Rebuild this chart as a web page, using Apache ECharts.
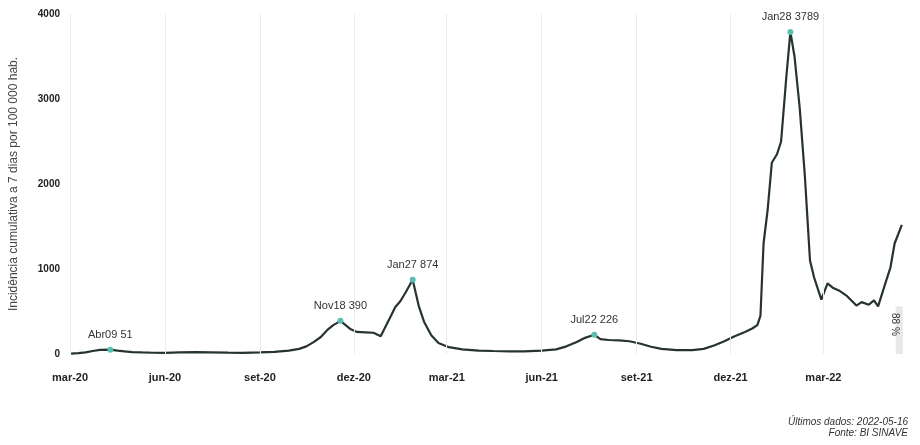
<!DOCTYPE html>
<html><head><meta charset="utf-8">
<script src="https://cdn.jsdelivr.net/npm/echarts@6/dist/echarts.min.js"></script>
<style>html,body{margin:0;padding:0;background:#fff}#c{width:920px;height:445px}</style>
</head><body><div id="c"></div>
<script>
const dates = ["2020-03-02","2020-03-09","2020-03-16","2020-03-23","2020-03-30","2020-04-09","2020-04-16","2020-04-23","2020-04-30","2020-05-10","2020-05-20","2020-06-01","2020-06-15","2020-07-01","2020-07-15","2020-08-01","2020-08-15","2020-09-01","2020-09-15","2020-09-29","2020-10-09","2020-10-16","2020-10-23","2020-10-30","2020-11-06","2020-11-11","2020-11-14","2020-11-18","2020-11-23","2020-11-28","2020-12-04","2020-12-12","2020-12-20","2020-12-27","2021-01-01","2021-01-06","2021-01-10","2021-01-15","2021-01-20","2021-01-27","2021-02-02","2021-02-07","2021-02-14","2021-02-21","2021-03-03","2021-03-16","2021-04-01","2021-04-15","2021-05-01","2021-05-15","2021-06-01","2021-06-15","2021-06-25","2021-07-05","2021-07-13","2021-07-22","2021-07-28","2021-08-05","2021-08-15","2021-08-25","2021-09-05","2021-09-15","2021-09-25","2021-10-10","2021-10-25","2021-11-05","2021-11-15","2021-11-25","2021-12-05","2021-12-15","2021-12-22","2021-12-27","2021-12-30","2022-01-02","2022-01-06","2022-01-10","2022-01-15","2022-01-19","2022-01-24","2022-01-28","2022-02-01","2022-02-06","2022-02-11","2022-02-16","2022-02-20","2022-02-27","2022-03-05","2022-03-10","2022-03-17","2022-03-24","2022-04-02","2022-04-07","2022-04-14","2022-04-19","2022-04-23","2022-04-30","2022-05-05","2022-05-09","2022-05-16"];
const values = [5,10,20,35,48,51,40,30,22,18,15,14,18,22,20,16,14,18,25,40,60,90,140,200,290,340,360,390,340,290,260,255,250,210,330,450,550,620,720,874,560,380,220,130,80,55,40,35,30,30,40,55,90,140,190,226,175,165,160,150,120,85,60,45,45,60,100,150,210,260,300,340,450,1300,1700,2250,2350,2500,3250,3789,3500,2900,2100,1100,900,640,830,780,740,680,570,610,580,630,560,830,1020,1300,1520];
const peakDates = ["2020-04-09","2020-11-18","2021-01-27","2021-07-22","2022-01-28"];
const peakValues = [51,390,874,226,3789];
const peakLabels = ["Abr09 51","Nov18 390","Jan27 874","Jul22 226","Jan28 3789"];
const tickDates = ["2020-03-01","2020-06-01","2020-09-01","2020-12-01","2021-03-01","2021-06-01","2021-09-01","2021-12-01","2022-03-01"];
const monthNames = ["jan","fev","mar","abr","mai","jun","jul","ago","set","out","nov","dez"];
const yTicks = [0,1000,2000,3000,4000];
const bandRange = ["2022-05-10","2022-05-17"];
const bandTop = 560;
const bandLabel = "88 %";

const ts = d => +new Date(d + "T00:00:00Z");
const chart = echarts.init(document.getElementById('c'));
const tickTs = tickDates.map(ts);
const fmt = v => { const d = new Date(v); return monthNames[d.getUTCMonth()] + '-' + String(d.getUTCFullYear()).slice(2); };
chart.setOption({
  animation: false,
  grid: {left: 66, right: 13, top: 14, bottom: 91},
  xAxis: {
    type: 'value', min: ts("2020-02-28"), max: ts("2022-05-21"),
    axisLine: {show: false}, axisTick: {show: false},
    splitLine: {show: false},
    axisLabel: {customValues: tickTs, formatter: fmt, color: '#222', fontWeight: 'bold', fontSize: 11, margin: 18, fontFamily: 'Liberation Sans'}
  },
  yAxis: {
    type: 'value', min: 0, max: 4000, interval: 1000,
    name: 'Incidência cumulativa a 7 dias por 100 000 hab.', nameLocation: 'middle', nameGap: 48,
    nameTextStyle: {color: '#444', fontSize: 12, fontFamily: 'Liberation Sans'},
    axisLine: {show: false}, axisTick: {show: false}, splitLine: {show: false},
    axisLabel: {customValues: yTicks, formatter: v => String(v), color: '#222', fontWeight: 'bold', fontSize: 10, margin: 8, fontFamily: 'Liberation Sans'}
  },
  graphic: [
    {type: 'text', right: 12, top: 417, style: {text: 'Últimos dados: 2022-05-16', font: 'italic 10px "Liberation Sans"', fill: '#333', textAlign: 'right'}},
    {type: 'text', right: 12, top: 428, style: {text: 'Fonte: BI SINAVE', font: 'italic 10px "Liberation Sans"', fill: '#333', textAlign: 'right'}}
  ],
  series: [
    {
      type: 'line', data: dates.map((d, i) => [ts(d), values[i]]),
      showSymbol: false, lineStyle: {color: '#26332f', width: 2.2}, z: 3,
      markLine: {
        silent: true, symbol: 'none', label: {show: false},
        lineStyle: {color: '#ececec', width: 1, type: 'solid'},
        data: tickTs.map(t => ({xAxis: t}))
      },
      markArea: {
        silent: true, itemStyle: {color: '#e8e8e8'},
        label: {show: true, position: 'insideTop', rotate: -90, formatter: bandLabel, color: '#333', fontSize: 10, distance: 18},
        data: [[{xAxis: ts(bandRange[0]), yAxis: 0}, {xAxis: ts(bandRange[1]), yAxis: bandTop}]]
      },
      markPoint: {
        symbol: 'circle', symbolSize: 6, itemStyle: {color: '#5bbfb0'},
        label: {show: true, position: 'top', distance: 6, color: '#333', fontSize: 11, fontFamily: 'Liberation Sans', formatter: p => p.name},
        data: peakDates.map((d, i) => ({name: peakLabels[i], coord: [ts(d), peakValues[i]]}))
      }
    }
  ]
});
</script></body></html>
